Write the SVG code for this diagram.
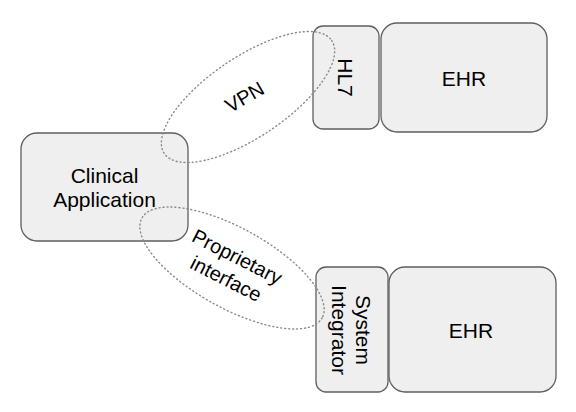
<svg xmlns="http://www.w3.org/2000/svg" width="576" height="412" viewBox="0 0 576 412">
<style>
.box{fill:#efefef;stroke:#5f5f5f;stroke-width:1.3}
.t{font-family:"Liberation Sans",Arial,sans-serif;font-size:21px;fill:#000;text-anchor:middle}
.l{font-size:20px}
.link{fill:none;stroke:#8a8a8a;stroke-width:1.4;stroke-dasharray:1 3;stroke-linecap:round}
</style>
<rect width="576" height="412" fill="#fff"/>
<g id="clinical">
<rect class="box" x="21" y="133" width="167" height="108" rx="16"/>
<text class="t" x="104.5" y="183">Clinical</text>
<text class="t" x="104.5" y="207">Application</text>
</g>
<g id="hl7">
<rect class="box" x="313" y="26" width="66" height="103" rx="10"/>
<text class="t" transform="translate(338,77.5) rotate(90)">HL7</text>
</g>
<g id="ehr1">
<rect class="box" x="381" y="23" width="166" height="109" rx="16"/>
<text class="t" x="464" y="86">EHR</text>
</g>
<g id="integrator">
<rect class="box" x="316" y="267" width="72" height="125" rx="10"/>
<text class="t" transform="translate(356,330) rotate(90)">System</text>
<text class="t" transform="translate(332,330) rotate(90)">Integrator</text>
</g>
<g id="ehr2">
<rect class="box" x="389" y="267" width="167" height="125" rx="16"/>
<text class="t" x="471" y="338">EHR</text>
</g>
<g id="connectors">
<ellipse class="link" cx="248" cy="97" rx="101" ry="40" transform="rotate(-34 248 97)"/>
<text class="t l" transform="translate(248,103) rotate(-30)">VPN</text>
<ellipse class="link" cx="232" cy="268" rx="103" ry="40" transform="rotate(29 232 268)"/>
<text class="t l" transform="translate(234,263) rotate(27)">Proprietary</text>
<text class="t l" transform="translate(223,285) rotate(27)">interface</text>
</g>
</svg>
